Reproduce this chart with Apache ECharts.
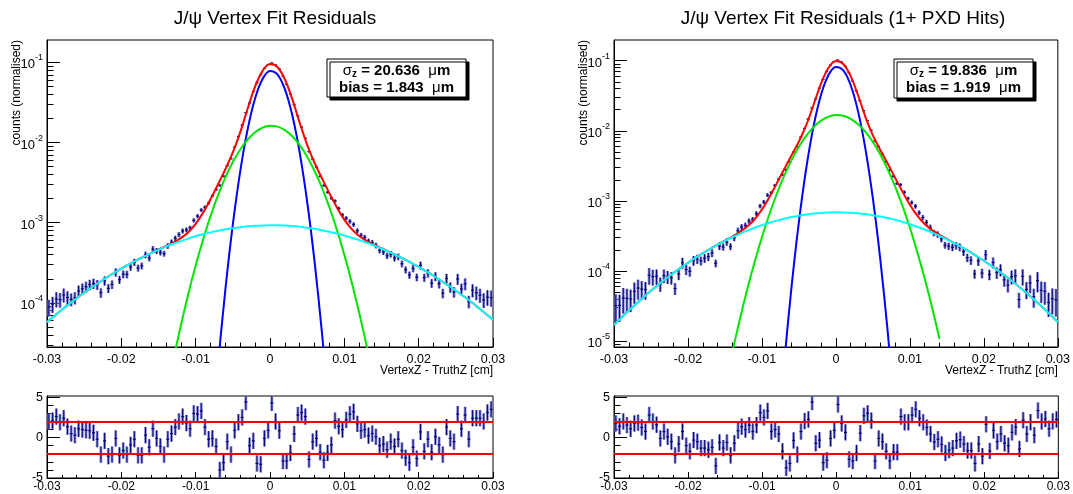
<!DOCTYPE html>
<html><head><meta charset="utf-8">
<script src="https://cdn.jsdelivr.net/npm/echarts@6.0.0/dist/echarts.min.js"></script>
<style>html,body{margin:0;padding:0;background:#fff}#c{width:1073px;height:494px}</style>
</head><body><div id="c"></div>
<script>
const FONT = '"Liberation Sans", Arial, Helvetica, sans-serif';

// ---- histogram binning (x axis, cm) ----
const X_RANGE = [-0.03, 0.03];
const N_BINS = 120;
const BIN_W = (X_RANGE[1] - X_RANGE[0]) / N_BINS;
const binCenters = Array.from({length: N_BINS}, (_, i) => X_RANGE[0] + (i + 0.5) * BIN_W);

// ---- titles / labels ----
const titles = ['J/\u03c8 Vertex Fit Residuals', 'J/\u03c8 Vertex Fit Residuals (1+ PXD Hits)'];
const xTitle = 'VertexZ - TruthZ [cm]';
const yTitle = 'counts (normalised)';
const sigmaZ = ['20.636', '19.836'];
const biasZ = ['1.843', '1.919'];

// ---- y ranges (counts, log axis) ----
const leftYRange = [2.82e-5, 0.19];
const rightYRange = [8.24e-6, 0.197];
const residRange = [-5, 5.15];
const residMajorTicks = [-5, 0, 5];
const residMinorTicks = [-4, -3, -2, -1, 1, 2, 3, 4];
const residBands = [2, -2];
const RESID_ERR = 1;

// ---- left panel: data (normalised counts per bin) ----
const leftData = [
 8.85e-5, 9.70e-5, 1.12e-4, 1.10e-4, 1.26e-4, 1.17e-4, 1.11e-4, 1.16e-4, 1.41e-4, 1.50e-4,
 1.59e-4, 1.69e-4, 1.75e-4, 1.69e-4, 1.34e-4, 1.89e-4, 1.52e-4, 1.70e-4, 2.41e-4, 1.95e-4,
 2.28e-4, 2.27e-4, 2.82e-4, 3.22e-4, 2.73e-4, 2.90e-4, 3.98e-4, 3.63e-4, 4.69e-4, 4.45e-4,
 4.27e-4, 4.12e-4, 5.14e-4, 5.72e-4, 6.40e-4, 7.12e-4, 7.90e-4, 8.15e-4, 8.61e-4, 1.07e-3,
 1.21e-3, 1.44e-3, 1.56e-3, 1.76e-3, 2.17e-3, 2.59e-3, 2.92e-3, 3.80e-3, 5.15e-3, 6.30e-3,
 8.76e-3, 1.19e-2, 1.65e-2, 2.36e-2, 3.12e-2, 4.31e-2, 5.58e-2, 7.01e-2, 8.44e-2, 9.36e-2,
 9.82e-2, 9.28e-2, 8.26e-2, 6.74e-2, 5.31e-2, 4.00e-2, 2.96e-2, 2.16e-2, 1.56e-2, 1.13e-2,
 7.70e-3, 6.23e-3, 4.97e-3, 3.78e-3, 2.91e-3, 2.40e-3, 2.02e-3, 1.87e-3, 1.51e-3, 1.25e-3,
 1.14e-3, 1.04e-3, 9.51e-4, 7.96e-4, 6.97e-4, 6.57e-4, 5.87e-4, 5.66e-4, 5.21e-4, 4.52e-4,
 4.34e-4, 3.87e-4, 4.05e-4, 3.63e-4, 3.76e-4, 3.08e-4, 2.59e-4, 2.23e-4, 2.69e-4, 2.09e-4,
 2.94e-4, 2.07e-4, 2.35e-4, 1.76e-4, 2.14e-4, 1.74e-4, 1.32e-4, 2.02e-4, 1.57e-4, 1.37e-4,
 1.99e-4, 1.49e-4, 1.73e-4, 1.04e-4, 1.44e-4, 1.34e-4, 1.25e-4, 1.09e-4, 1.18e-4, 1.16e-4];
const leftRelErr = [
 .235,.225,.215,.206,.197,.189,.181,.174,.167,.161,
 .155,.149,.144,.139,.134,.129,.125,.121,.117,.113,
 .110,.107,.104,.101,.098,.095,.093,.091,.088,.086,
 .084,.082,.080,.078,.076,.073,.071,.068,.064,.061,
 .057,.052,.048,.043,.039,.035,.032,.028,.025,.023,
 .020,.017,.014,.012,.010,.009,.008,.007,.006,.006,
 .006,.006,.006,.007,.008,.009,.011,.013,.015,.018,
 .020,.023,.026,.029,.032,.036,.040,.044,.049,.053,
 .057,.061,.065,.068,.071,.074,.076,.078,.080,.082,
 .085,.087,.089,.091,.093,.096,.098,.101,.104,.107,
 .111,.114,.118,.122,.126,.130,.135,.140,.145,.150,
 .156,.162,.169,.176,.183,.191,.199,.208,.217,.227];
const leftResid = [
 2.0, 2.1, 2.6, 1.9, 2.4, 1.35, 0.5, 0.3, 1.1, 1.0,
 0.9, 0.85, 0.6, -0.2, -2.1, -0.4, -2.3, -2.1, -0.1, -2.2,
 -1.6, -2.1, -0.9, -0.2, -2.2, -2.2, 0.3, -1.2, 1.1, -0.1,
 -1.1, -2.1, -0.2, 0.5, 1.3, 2.0, 2.6, 1.8, 1.1, 3.0,
 2.9, 3.3, 1.3, -0.2, -0.1, -1.1, -4.0, -3.1, -0.5, -2.1,
 0.9, 1.9, 2.5, 4.4, -1.0, -0.4, -3.2, -3.3, -0.1, 0.9,
 4.3, 2.0, 0.85, -2.9, -2.9, -1.9, 0.45, 2.8, 3.1, 2.6,
 -2.7, -0.5, -0.1, -1.8, -2.8, -1.9, -0.9, 2.1, 1.4, 1.0,
 2.2, 2.9, 3.2, 1.7, 0.85, 1.0, 0.25, 0.5, 0.1, -1.0,
 -0.8, -1.5, -0.5, -1.1, -0.2, -1.6, -2.5, -3.1, -1.2, -2.6,
 0.7, -1.7, -0.2, -1.8, 0.1, -0.9, -2.1, 1.3, -0.1, -0.5,
 2.9, 1.1, 2.8, -0.2, 2.4, 2.4, 2.4, 2.0, 3.1, 3.5];

// ---- left panel: fit curves, sampled every 0.001 cm ----
const CURVE_STEP = 0.001;
const leftRedStart = -0.030;
const leftRed = [
 5.75e-5, 6.89e-5, 8.21e-5, 9.72e-5, 1.145e-4, 1.339e-4, 1.557e-4, 1.799e-4, 2.067e-4, 2.36e-4,
 2.677e-4, 3.019e-4, 3.385e-4, 3.77e-4, 4.18e-4, 4.62e-4, 5.094e-4, 5.661e-4, 6.425e-4, 7.625e-4,
 9.70e-4, 1.336e-3, 1.968e-3, 3.00e-3, 4.655e-3, 7.517e-3, 1.349e-2, 2.658e-2, 5.003e-2, 7.835e-2,
 9.52e-2, 8.753e-2, 6.151e-2, 3.473e-2, 1.761e-2, 9.354e-3, 5.583e-3, 3.569e-3, 2.322e-3, 1.551e-3,
 1.093e-3, 8.31e-4, 6.83e-4, 5.93e-4, 5.30e-4, 4.81e-4, 4.35e-4, 3.93e-4, 3.54e-4, 3.16e-4,
 2.81e-4, 2.48e-4, 2.18e-4, 1.90e-4, 1.65e-4, 1.42e-4, 1.22e-4, 1.04e-4, 8.79e-5, 7.40e-5, 6.19e-5];
const leftCyanStart = -0.030;
const leftCyan = [
 5.75e-5, 6.89e-5, 8.21e-5, 9.72e-5, 1.145e-4, 1.339e-4, 1.557e-4, 1.799e-4, 2.067e-4, 2.36e-4,
 2.677e-4, 3.019e-4, 3.385e-4, 3.77e-4, 4.175e-4, 4.596e-4, 5.026e-4, 5.466e-4, 5.905e-4, 6.343e-4,
 6.77e-4, 7.18e-4, 7.58e-4, 7.94e-4, 8.27e-4, 8.56e-4, 8.81e-4, 9.01e-4, 9.17e-4, 9.26e-4,
 9.30e-4, 9.28e-4, 9.21e-4, 9.08e-4, 8.90e-4, 8.67e-4, 8.39e-4, 8.08e-4, 7.72e-4, 7.34e-4,
 6.94e-4, 6.51e-4, 6.08e-4, 5.64e-4, 5.20e-4, 4.77e-4, 4.34e-4, 3.93e-4, 3.54e-4, 3.16e-4,
 2.81e-4, 2.48e-4, 2.18e-4, 1.90e-4, 1.65e-4, 1.42e-4, 1.22e-4, 1.04e-4, 8.79e-5, 7.40e-5, 6.19e-5];
const leftGreenStart = -0.014;
const leftGreen = [
 6.78e-6, 1.95e-5, 5.20e-5, 1.282e-4, 2.926e-4, 6.18e-4, 1.21e-3, 2.19e-3, 3.68e-3, 5.71e-3,
 8.20e-3, 1.091e-2, 1.344e-2, 1.532e-2, 1.617e-2, 1.580e-2, 1.429e-2, 1.197e-2, 9.28e-3, 6.66e-3,
 4.42e-3, 2.72e-3, 1.55e-3, 8.17e-4, 3.99e-4, 1.80e-4, 7.52e-5, 2.91e-5, 1.04e-5];
const leftBlueStart = -0.008;
const leftBlue = [
 1.34e-6, 1.66e-5, 1.478e-4, 9.51e-4, 4.41e-3, 1.477e-2, 3.567e-2, 6.21e-2, 7.81e-2, 7.08e-2,
 4.63e-2, 2.185e-2, 7.44e-3, 1.827e-3, 3.24e-4, 4.14e-5, 3.81e-6];

// ---- right panel: data ----
const rightData = [
 3.21e-5, 3.23e-5, 4.10e-5, 4.06e-5, 4.00e-5, 5.11e-5, 5.71e-5, 5.52e-5, 5.42e-5, 8.69e-5,
 8.30e-5, 8.43e-5, 6.55e-5, 8.60e-5, 8.27e-5, 8.00e-5, 5.62e-5, 9.06e-5, 1.31e-4, 1.05e-4,
 9.91e-5, 1.41e-4, 1.48e-4, 1.40e-4, 1.52e-4, 1.60e-4, 1.81e-4, 1.29e-4, 2.27e-4, 2.21e-4,
 2.59e-4, 2.23e-4, 2.97e-4, 3.75e-4, 4.23e-4, 4.47e-4, 5.15e-4, 5.42e-4, 6.58e-4, 8.43e-4,
 9.64e-4, 1.21e-3, 1.31e-3, 1.66e-3, 2.04e-3, 2.36e-3, 2.78e-3, 3.60e-3, 4.94e-3, 5.94e-3,
 8.10e-3, 1.08e-2, 1.47e-2, 2.12e-2, 2.84e-2, 4.04e-2, 5.39e-2, 7.00e-2, 8.61e-2, 9.69e-2,
 1.02e-1, 9.58e-2, 8.38e-2, 6.69e-2, 5.09e-2, 3.72e-2, 2.68e-2, 1.93e-2, 1.40e-2, 1.02e-2,
 7.10e-3, 5.96e-3, 4.70e-3, 3.61e-3, 2.73e-3, 2.24e-3, 1.76e-3, 1.70e-3, 1.33e-3, 1.08e-3,
 9.46e-4, 8.37e-4, 6.78e-4, 5.78e-4, 4.93e-4, 4.18e-4, 3.48e-4, 3.33e-4, 2.88e-4, 2.34e-4,
 2.26e-4, 2.18e-4, 2.30e-4, 2.19e-4, 1.89e-4, 1.55e-4, 1.42e-4, 9.11e-5, 1.39e-4, 9.32e-5,
 1.71e-4, 8.91e-5, 1.32e-4, 9.47e-5, 1.04e-4, 7.49e-5, 6.27e-5, 8.28e-5, 8.56e-5, 3.91e-5,
 8.37e-5, 5.45e-5, 6.75e-5, 4.29e-5, 7.29e-5, 5.28e-5, 5.13e-5, 3.56e-5, 4.02e-5, 3.88e-5];
const rightRelErr = [
 .445,.419,.395,.373,.352,.333,.315,.298,.283,.268,
 .255,.243,.231,.220,.210,.200,.192,.183,.176,.168,
 .162,.155,.149,.144,.139,.134,.129,.125,.121,.117,
 .114,.110,.106,.102,.098,.094,.089,.084,.078,.072,
 .066,.059,.053,.048,.042,.038,.034,.030,.027,.024,
 .021,.019,.016,.013,.011,.009,.008,.007,.006,.006,
 .006,.006,.007,.007,.008,.010,.012,.014,.016,.019,
 .022,.024,.027,.031,.034,.039,.043,.049,.054,.061,
 .067,.073,.079,.085,.090,.094,.099,.103,.106,.110,
 .114,.118,.122,.126,.130,.135,.140,.145,.151,.157,
 .163,.170,.177,.185,.193,.202,.212,.222,.233,.245,
 .258,.271,.286,.301,.318,.336,.356,.377,.400,.424];
const rightResid = [
 1.75, 1.4, 2.0, 1.55, 1.1, 1.75, 1.85, 1.25, 0.75, 2.8,
 2.0, 1.6, -0.1, 0.75, 0.1, -0.5, -2.2, -0.8, 0.75, -1.0,
 -1.7, -0.3, -0.5, -1.3, -1.3, -1.5, -1.2, -3.5, -0.6, -1.3,
 -0.6, -2.2, -0.7, 0.85, 1.35, 1.0, 1.55, 0.75, 1.55, 3.1,
 2.5, 3.3, 0.75, 1.0, 0.45, -1.7, -3.75, -3.2, -0.35, -2.1,
 0.75, 2.05, 2.25, 4.4, -0.7, -0.3, -3.1, -2.8, -0.1, 0.9,
 4.1, 1.75, 0.65, -2.7, -2.9, -1.9, 0.55, 2.7, 3.0, 2.1,
 -2.9, -0.1, -0.5, -1.7, -2.9, -1.8, -1.8, 2.6, 1.9, 1.9,
 2.8, 3.5, 2.4, 1.9, 1.25, 0.45, -0.55, -0.2, -0.85, -1.9,
 -1.55, -1.3, -0.4, -0.25, -0.8, -1.6, -1.6, -3.2, -0.8, -2.3,
 1.65, -1.65, 0.9, -0.5, 0.45, -0.7, -1.0, 0.65, 1.3, -1.4,
 2.15, 0.45, 1.9, 0.3, 3.35, 2.0, 2.3, 1.1, 2.0, 2.25];

// ---- right panel: fit curves ----
const rightRedStart = -0.030;
const rightRed = [
 1.697e-5, 2.159e-5, 2.725e-5, 3.413e-5, 4.239e-5, 5.222e-5, 6.381e-5, 7.733e-5, 9.30e-5, 1.109e-4,
 1.312e-4, 1.539e-4, 1.791e-4, 2.068e-4, 2.373e-4, 2.713e-4, 3.101e-4, 3.59e-4, 4.295e-4, 5.459e-4,
 7.536e-4, 1.127e-3, 1.777e-3, 2.832e-3, 4.457e-3, 7.042e-3, 1.2107e-2, 2.391e-2, 4.759e-2, 7.911e-2,
 9.885e-2, 8.978e-2, 6.007e-2, 3.183e-2, 1.569e-2, 8.60e-3, 5.326e-3, 3.403e-3, 2.143e-3, 1.349e-3,
 8.78e-4, 6.144e-4, 4.683e-4, 3.836e-4, 3.28e-4, 2.861e-4, 2.497e-4, 2.186e-4, 1.90e-4, 1.637e-4,
 1.40e-4, 1.187e-4, 9.99e-5, 8.33e-5, 6.90e-5, 5.66e-5, 4.61e-5, 3.725e-5, 2.985e-5, 2.372e-5, 1.87e-5];
const rightCyanStart = -0.030;
const rightCyan = [
 1.697e-5, 2.159e-5, 2.725e-5, 3.413e-5, 4.239e-5, 5.222e-5, 6.381e-5, 7.733e-5, 9.30e-5, 1.109e-4,
 1.312e-4, 1.539e-4, 1.791e-4, 2.068e-4, 2.369e-4, 2.69e-4, 3.031e-4, 3.388e-4, 3.756e-4, 4.13e-4,
 4.504e-4, 4.873e-4, 5.231e-4, 5.568e-4, 5.88e-4, 6.157e-4, 6.396e-4, 6.592e-4, 6.738e-4, 6.832e-4,
 6.87e-4, 6.853e-4, 6.782e-4, 6.657e-4, 6.482e-4, 6.258e-4, 5.995e-4, 5.696e-4, 5.368e-4, 5.017e-4,
 4.651e-4, 4.279e-4, 3.904e-4, 3.534e-4, 3.172e-4, 2.825e-4, 2.495e-4, 2.186e-4, 1.90e-4, 1.637e-4,
 1.40e-4, 1.187e-4, 9.99e-5, 8.33e-5, 6.90e-5, 5.66e-5, 4.61e-5, 3.725e-5, 2.985e-5, 2.372e-5, 1.87e-5];
const rightGreenStart = -0.014;
const rightGreen = [
 7.03e-6, 2.02e-5, 5.39e-5, 1.329e-4, 3.032e-4, 6.40e-4, 1.254e-3, 2.27e-3, 3.81e-3, 5.92e-3,
 8.50e-3, 1.131e-2, 1.393e-2, 1.588e-2, 1.676e-2, 1.637e-2, 1.481e-2, 1.240e-2, 9.62e-3, 6.90e-3,
 4.58e-3, 2.82e-3, 1.606e-3, 8.47e-4, 4.13e-4, 1.865e-4, 7.79e-5, 3.02e-5, 1.08e-5];
const rightBlueStart = -0.008;
const rightBlue = [
 2.6e-7, 4.75e-6, 5.92e-5, 5.06e-4, 2.967e-3, 1.194e-2, 3.299e-2, 6.255e-2, 8.14e-2, 7.272e-2,
 4.458e-2, 1.876e-2, 5.418e-3, 1.074e-3, 1.461e-4, 1.364e-5, 8.7e-7];

// ---- styling ----
const COLORS = {red: '#ff0000', blue: '#0000ff', green: '#00e600', cyan: '#00ffff',
  point: '#00007a', band: '#8a8ad2', frame: '#000'};

const lg = Math.log10;
const curvePairs = (start, vals) => vals.map((v, i) => [start + i * CURVE_STEP, lg(v)]);
const pointRows = (vals, errs) => vals.map((v, i) => [binCenters[i], lg(v), lg(v * (1 - errs[i])), lg(v * (1 + errs[i]))]);
const residRows = (vals) => vals.map((v, i) => [binCenters[i], v, v - RESID_ERR, v + RESID_ERR]);

function decadeTicks(lo, hi) {
  const out = [];
  for (let n = -8; n <= 2; n++) if (n >= lo && n <= hi) out.push(n);
  return out;
}
function minorLogTicks(lo, hi) {
  const out = [];
  for (let n = -8; n <= 1; n++) for (let k = 2; k <= 9; k++) {
    const v = n + lg(k);
    if (v > lo && v < hi) out.push(v);
  }
  return out;
}

function errRender(params, api) {
  const x = api.value(0);
  const c = api.coord([x, api.value(1)]);
  const lo = api.coord([x, api.value(2)]);
  const hi = api.coord([x, api.value(3)]);
  const hw = api.size([BIN_W, 0])[0] / 2;
  return {type: 'group', children: [
    {type: 'rect', shape: {x: c[0] - 1.4, y: hi[1], width: 2.8, height: lo[1] - hi[1]}, style: {fill: COLORS.band}},
    {type: 'line', shape: {x1: c[0], y1: hi[1], x2: c[0], y2: lo[1]}, style: {stroke: COLORS.point, lineWidth: 1}},
    {type: 'line', shape: {x1: c[0] - hw * 0.8, y1: c[1], x2: c[0] + hw * 0.8, y2: c[1]}, style: {stroke: COLORS.point, lineWidth: 1.2}}
  ]};
}

const fmtX = v => Math.abs(v) < 1e-9 ? '0' : (+v.toFixed(2)).toString();
const labelBase = {color: '#000', fontFamily: FONT};
const hiddenLine = {show: false, onZero: false};

function xAxis(gridIndex, main) {
  return {
    type: 'value', gridIndex, min: X_RANGE[0], max: X_RANGE[1], interval: 0.01,
    axisLine: {show: true, onZero: false, lineStyle: {color: '#000', width: 1}},
    axisTick: {show: true, inside: true, length: main ? 9 : 6, lineStyle: {color: '#000'}},
    minorTick: {show: true, splitNumber: 5, length: main ? 4.5 : 3, lineStyle: {color: '#000'}},
    axisLabel: Object.assign({margin: main ? 6 : 3, fontSize: main ? 12.5 : 12, formatter: fmtX, showMinLabel: true, showMaxLabel: true}, labelBase),
    splitLine: {show: false},
    name: main ? xTitle : '', nameLocation: 'end', nameGap: 0, nameMoveOverlap: false,
    nameTextStyle: {fontFamily: FONT, fontSize: 12, color: '#000', align: 'right', verticalAlign: 'top', padding: [18, 0, 0, 0]}
  };
}
function yAxisLogMajor(gridIndex, range) {
  const lo = lg(range[0]), hi = lg(range[1]);
  const t = decadeTicks(lo, hi);
  return {
    type: 'value', gridIndex, min: lo, max: hi, position: 'left',
    axisLine: {show: true, onZero: false, lineStyle: {color: '#000'}},
    axisTick: {show: true, inside: true, length: 13, customValues: t, lineStyle: {color: '#000'}},
    axisLabel: {show: true, customValues: t, margin: 4,
      formatter: v => `{b|10}{s|${Math.round(v)}}`,
      rich: {b: {fontFamily: FONT, fontSize: 13, color: '#000', lineHeight: 18, verticalAlign: 'bottom'},
             s: {fontFamily: FONT, fontSize: 9, color: '#000', lineHeight: 10, verticalAlign: 'top'}}},
    splitLine: {show: false},
    name: yTitle, nameLocation: 'end', nameGap: 0, nameRotate: 90, nameMoveOverlap: false,
    nameTextStyle: {fontFamily: FONT, fontSize: 12, color: '#000', align: 'right', verticalAlign: 'bottom', padding: [0, 0, 24, 0]}
  };
}
function yAxisLogMinor(gridIndex, range) {
  const lo = lg(range[0]), hi = lg(range[1]);
  return {
    type: 'value', gridIndex, min: lo, max: hi, position: 'left',
    axisLine: hiddenLine, axisLabel: {show: false}, splitLine: {show: false},
    axisTick: {show: true, inside: true, length: 6.5, customValues: minorLogTicks(lo, hi), lineStyle: {color: '#000'}}
  };
}
function yAxisResidMajor(gridIndex) {
  return {
    type: 'value', gridIndex, min: residRange[0], max: residRange[1], position: 'left',
    axisLine: {show: true, onZero: false, lineStyle: {color: '#000'}},
    axisTick: {show: true, inside: true, length: 13, customValues: residMajorTicks, lineStyle: {color: '#000'}},
    axisLabel: Object.assign({show: true, customValues: residMajorTicks, margin: 4, fontSize: 12.5,
      formatter: v => String(v)}, labelBase),
    splitLine: {show: false}
  };
}
function yAxisResidMinor(gridIndex) {
  return {
    type: 'value', gridIndex, min: residRange[0], max: residRange[1], position: 'left',
    axisLine: hiddenLine, axisLabel: {show: false}, splitLine: {show: false},
    axisTick: {show: true, inside: true, length: 6.5, customValues: residMinorTicks, lineStyle: {color: '#000'}}
  };
}

function curveSeries(xi, yi, start, vals, color) {
  return {type: 'line', xAxisIndex: xi, yAxisIndex: yi, data: curvePairs(start, vals),
    showSymbol: false, smooth: 0.33, clip: true, silent: true,
    lineStyle: {color, width: 2}, z: 3};
}
function pointSeries(xi, yi, rows) {
  return {type: 'custom', xAxisIndex: xi, yAxisIndex: yi, data: rows, renderItem: errRender,
    encode: {x: 0, y: 1}, clip: true, silent: true, z: 2};
}
function residSeries(xi, yi, rows) {
  const s = pointSeries(xi, yi, rows);
  s.markLine = {silent: true, symbol: 'none', animation: false, label: {show: false},
    lineStyle: {color: COLORS.red, width: 2, type: 'solid'}, z: 5,
    data: residBands.map(v => ({yAxis: v}))};
  return s;
}

const grids = [
  {left: 47, top: 40, width: 446, height: 307},
  {left: 614, top: 40, width: 448, height: 307},
  {left: 47, top: 396, width: 446, height: 82},
  {left: 614, top: 396, width: 448, height: 82}
].map(g => Object.assign({show: true, borderColor: '#000', borderWidth: 1, containLabel: false}, g));

function statsBox(x, y, w, h, i) {
  const cx = x + w / 2;
  const rich = {
    b: {fontFamily: FONT, fontWeight: 'bold', fontSize: 15, fill: '#000', lineHeight: 18},
    g: {fontFamily: FONT, fontWeight: 'normal', fontSize: 15, fill: '#000', lineHeight: 18},
    z: {fontFamily: FONT, fontWeight: 'bold', fontSize: 10, fill: '#000', lineHeight: 11, verticalAlign: 'bottom'}
  };
  return [
    {type: 'rect', shape: {x, y, width: w, height: h}, z: 10,
     style: {fill: '#fff', stroke: '#000', lineWidth: 1, shadowBlur: 0, shadowOffsetX: 3, shadowOffsetY: 3, shadowColor: '#000'}},
    {type: 'text', x: cx, y: y + 11.5, z: 11,
     style: {text: `{g|\u03c3}{z|z}{b| = ${sigmaZ[i]}  }{g|\u03bc}{b|m}`, align: 'center', verticalAlign: 'middle', rich}},
    {type: 'text', x: cx, y: y + 29, z: 11,
     style: {text: `{b|bias = ${biasZ[i]}  }{g|\u03bc}{b|m}`, align: 'center', verticalAlign: 'middle', rich}}
  ];
}

const titleStyle = {fontFamily: FONT, fontSize: 19, fontWeight: 'normal', color: '#000'};
const option = {
  animation: false,
  backgroundColor: '#fff',
  title: [
    {text: titles[0], left: 270, top: 4, textAlign: 'center', textStyle: titleStyle},
    {text: titles[1], left: 838, top: 4, textAlign: 'center', textStyle: titleStyle}
  ],
  grid: grids,
  xAxis: [xAxis(0, true), xAxis(1, true), xAxis(2, false), xAxis(3, false)],
  yAxis: [
    yAxisLogMajor(0, leftYRange), yAxisLogMinor(0, leftYRange),
    yAxisLogMajor(1, rightYRange), yAxisLogMinor(1, rightYRange),
    yAxisResidMajor(2), yAxisResidMinor(2),
    yAxisResidMajor(3), yAxisResidMinor(3)
  ],
  series: [
    pointSeries(0, 0, pointRows(leftData, leftRelErr)),
    curveSeries(0, 0, leftRedStart, leftRed, COLORS.red),
    curveSeries(0, 0, leftBlueStart, leftBlue, COLORS.blue),
    curveSeries(0, 0, leftGreenStart, leftGreen, COLORS.green),
    curveSeries(0, 0, leftCyanStart, leftCyan, COLORS.cyan),
    pointSeries(1, 2, pointRows(rightData, rightRelErr)),
    curveSeries(1, 2, rightRedStart, rightRed, COLORS.red),
    curveSeries(1, 2, rightBlueStart, rightBlue, COLORS.blue),
    curveSeries(1, 2, rightGreenStart, rightGreen, COLORS.green),
    curveSeries(1, 2, rightCyanStart, rightCyan, COLORS.cyan),
    residSeries(2, 4, residRows(leftResid)),
    residSeries(3, 6, residRows(rightResid))
  ],
  graphic: [].concat(statsBox(327, 59, 139, 38, 0), statsBox(894, 59, 139, 39, 1))
};

const chart = echarts.init(document.getElementById('c'), null, {renderer: 'canvas'});
chart.setOption(option);
</script></body></html>
